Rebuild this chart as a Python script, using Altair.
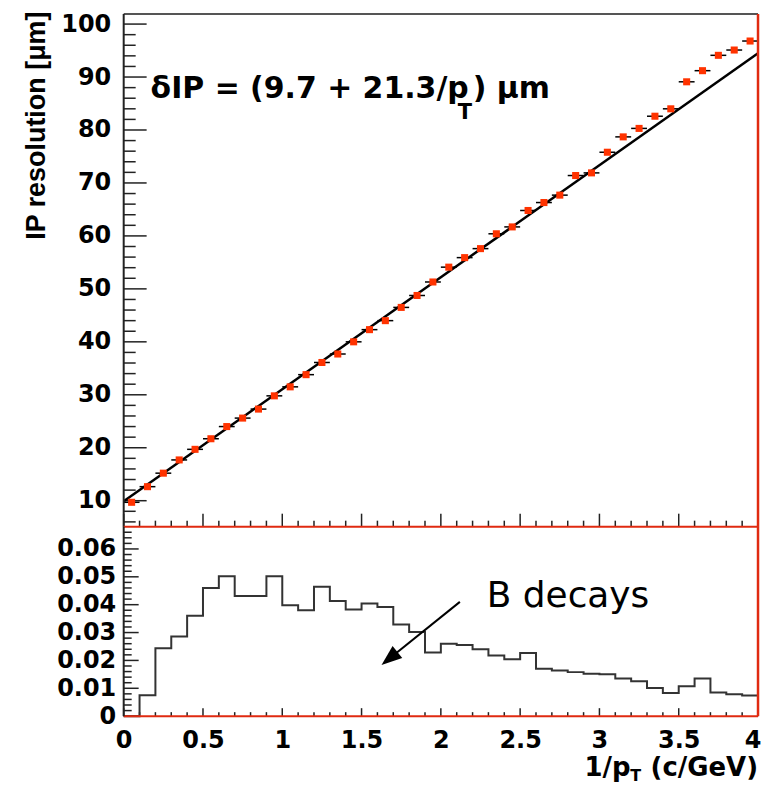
import altair as alt
import pandas as pd

# ---------------- data ----------------
pt_x = [0.05, 0.15, 0.25, 0.35, 0.45, 0.55, 0.65, 0.75, 0.85, 0.95,
        1.05, 1.15, 1.25, 1.35, 1.45, 1.55, 1.65, 1.75, 1.85, 1.95,
        2.05, 2.15, 2.25, 2.35, 2.45, 2.55, 2.65, 2.75, 2.85, 2.95,
        3.05, 3.15, 3.25, 3.35, 3.45, 3.55, 3.65, 3.75, 3.85, 3.95]
pt_y = [9.7, 12.65, 15.2, 17.7, 19.7, 21.7, 24.0, 25.6, 27.3, 29.8,
        31.5, 33.8, 36.1, 37.7, 40.0, 42.3, 44.0, 46.5, 48.75, 51.3,
        54.1, 55.9, 57.6, 60.4, 61.7, 64.8, 66.3, 67.7, 71.4, 71.9,
        75.8, 78.7, 80.3, 82.6, 84.0, 89.1, 91.2, 94.1, 95.1, 96.8]
pt_half_width = 0.05

fit_x = [0.0, 4.0]
fit_y = [9.9, 94.5]

hist_edges = [0.0, 0.1, 0.2, 0.3, 0.4, 0.5, 0.6, 0.7, 0.8, 0.9,
              1.0, 1.1, 1.2, 1.3, 1.4, 1.5, 1.6, 1.7, 1.8, 1.9,
              2.0, 2.1, 2.2, 2.3, 2.4, 2.5, 2.6, 2.7, 2.8, 2.9,
              3.0, 3.1, 3.2, 3.3, 3.4, 3.5, 3.6, 3.7, 3.8, 3.9, 4.0]
hist_vals = [0.0, 0.0075, 0.0244, 0.0286, 0.036, 0.046, 0.0502, 0.0431, 0.0431, 0.0502,
             0.0398, 0.038, 0.0464, 0.0413, 0.0383, 0.0404, 0.0392, 0.0329, 0.0302, 0.0228,
             0.026, 0.0255, 0.024, 0.0218, 0.0204, 0.0227, 0.017, 0.0164, 0.0158, 0.0152,
             0.015, 0.0135, 0.0125, 0.0101, 0.0083, 0.0107, 0.0135, 0.0085, 0.0079, 0.0074]

arrow_x = [2.12, 1.676]
arrow_y = [0.041, 0.0207]

top_y_major = [10, 20, 30, 40, 50, 60, 70, 80, 90, 100]
top_y_minor = [v for v in range(6, 102, 2) if v % 10]
x_major = [0, 0.5, 1, 1.5, 2, 2.5, 3, 3.5, 4]
x_minor = [round(k * 0.1, 1) for k in range(1, 40) if k % 5]
bot_y_major = [0, 0.01, 0.02, 0.03, 0.04, 0.05, 0.06]
bot_y_minor = [round(k * 0.002, 3) for k in range(1, 34) if k % 5]

# ---------------- styling ----------------
W, H1, H2 = 636, 514, 190
RED_PT = "#ff3300"
RED_FR = "#e02a10"
FONT = "DejaVu Sans"

X_SC = alt.Scale(domain=[0, 4], nice=False, zero=False)
Y_TOP = alt.Scale(domain=[5.1, 101.9], nice=False, zero=False)
Y_BOT = alt.Scale(domain=[0, 0.068], nice=False, zero=False)

one = pd.DataFrame({"a": [0]})
df_pts = pd.DataFrame({"x": pt_x, "y": pt_y})
df_pts["xlo"] = df_pts["x"] - pt_half_width
df_pts["xhi"] = df_pts["x"] + pt_half_width
df_fit = pd.DataFrame({"x": fit_x, "y": fit_y})
df_hist = pd.DataFrame({"x": hist_edges, "h": hist_vals + [hist_vals[-1]]})
df_arrow = pd.DataFrame({"x": [arrow_x[0]], "y": [arrow_y[0]],
                         "x2": [arrow_x[1]], "y2": [arrow_y[1]]})
df_head = pd.DataFrame({"x": [arrow_x[1]], "y": [arrow_y[1]]})


def vals(v):
    return pd.DataFrame({"v": v})


Y_AXIS_TOP = alt.Axis(values=top_y_major, ticks=False, tickSize=0, domain=False, grid=False,
                      labelFont=FONT, labelFontWeight="bold", labelFontSize=24,
                      labelColor="black", labelPadding=13,
                      title="IP resolution [μm]", titleFont="Liberation Sans",
                      titleFontWeight="bold", titleFontSize=27, titleColor="black",
                      titleAngle=270, titleAlign="right", titleBaseline="bottom",
                      titleX=-73, titleY=-3)

Y_AXIS_BOT = alt.Axis(values=bot_y_major, ticks=False, tickSize=0, domain=False, grid=False,
                      labelFont=FONT, labelFontWeight="bold", labelFontSize=24,
                      labelColor="black", labelPadding=8, labelExpr="'' + datum.value",
                      title=None)
X_AXIS_BOT = alt.Axis(values=x_major, ticks=False, tickSize=0, domain=False, grid=False,
                      labelFont=FONT, labelFontWeight="bold", labelFontSize=24,
                      labelColor="black", labelPadding=12, labelExpr="'' + datum.value",
                      labelAlign={"condition": {"test": "datum.value == 4", "value": "right"},
                                  "value": "center"},
                      labelOffset={"condition": {"test": "datum.value == 4", "value": 3},
                                   "value": 0},
                      labelFlush=False, labelOverlap=False, title=None)


def panel_axes(top):
    """Same axis object on every layer of a panel so that they merge into one."""
    if top:
        return None, Y_AXIS_TOP, Y_TOP
    return X_AXIS_BOT, Y_AXIS_BOT, Y_BOT


def yticks(values, top, length, width=1.5):
    xa, ya, ys = panel_axes(top)
    return alt.Chart(vals(values)).mark_rule(color="#222", strokeWidth=width).encode(
        y=alt.Y("v:Q", scale=ys, axis=ya), x=alt.value(0), x2=alt.value(length))


def xticks(values, top, h, length, width=1.5):
    xa, ya, ys = panel_axes(top)
    return alt.Chart(vals(values)).mark_rule(color="#222", strokeWidth=width).encode(
        x=alt.X("v:Q", scale=X_SC, axis=xa), y=alt.value(h), y2=alt.value(h - length))


def hline(y, color, w=2):
    return alt.Chart(one).mark_rule(color=color, strokeWidth=w).encode(
        x=alt.value(0), x2=alt.value(W), y=alt.value(y))


def vline(x, h, color, w=2):
    return alt.Chart(one).mark_rule(color=color, strokeWidth=w).encode(
        x=alt.value(x), y=alt.value(0), y2=alt.value(h))


def label(text, x, y, size, weight="bold", align="left", font=FONT):
    return alt.Chart(one).mark_text(text=text, font=font, fontSize=size, fontWeight=weight,
                                    align=align, baseline="alphabetic", color="black").encode(
        x=alt.value(x), y=alt.value(y))


# ---------------- top panel ----------------
xa, ya, ys = panel_axes(True)
fit = alt.Chart(df_fit).mark_line(color="black", strokeWidth=2.5).encode(
    x=alt.X("x:Q", scale=X_SC, axis=xa),
    y=alt.Y("y:Q", scale=ys, axis=ya))
err = alt.Chart(df_pts).mark_rule(color="black", strokeWidth=1.5).encode(
    x=alt.X("xlo:Q", scale=X_SC, axis=xa), x2="xhi:Q",
    y=alt.Y("y:Q", scale=ys, axis=ya))
pts = alt.Chart(df_pts).mark_square(color=RED_PT, size=50, opacity=1).encode(
    x=alt.X("x:Q", scale=X_SC, axis=xa),
    y=alt.Y("y:Q", scale=ys, axis=ya))

top = alt.layer(
    yticks(top_y_major, True, 23), yticks(top_y_minor, True, 12),
    xticks(x_major, True, H1, 13), xticks(x_minor, True, H1, 6),
    fit, err, pts,
    hline(0, "#555"), vline(0, H1, "#222"), vline(W, H1, RED_FR, 2.5),
    label("δIP = (9.7 + 21.3/p", 27, 84.7, 30),
    label("T", 335, 105, 21),
    label(") μm", 350, 84.7, 30),
).properties(width=W, height=H1)

# ---------------- bottom panel ----------------
xa, ya, ys = panel_axes(False)
hist = alt.Chart(df_hist).mark_line(interpolate="step-after", color="#333", strokeWidth=2).encode(
    x=alt.X("x:Q", scale=X_SC, axis=xa),
    y=alt.Y("h:Q", scale=ys, axis=ya))
arrow = alt.Chart(df_arrow).mark_rule(color="black", strokeWidth=2).encode(
    x=alt.X("x:Q", scale=X_SC, axis=xa), x2="x2:Q",
    y=alt.Y("y:Q", scale=ys, axis=ya), y2="y2:Q")
head = alt.Chart(df_head).mark_point(shape="M-0.75,1L0,-1L0.75,1Z", size=420, angle=231,
                                     filled=True, color="black", opacity=1).encode(
    x=alt.X("x:Q", scale=X_SC, axis=xa),
    y=alt.Y("y:Q", scale=ys, axis=ya))

bottom = alt.layer(
    yticks(bot_y_major, False, 15), yticks(bot_y_minor, False, 8),
    xticks(x_major, False, H2, 8), xticks(x_minor, False, H2, 4),
    hist,
    hline(0, RED_FR), hline(H2, RED_FR), vline(0, H2, "#222"), vline(W, H2, RED_FR, 2.5),
    arrow, head,
    label("B decays", 364, 80.7, 36, weight="normal"),
    label("1/p", 462, 250, 26),
    label("T", 508, 255, 16),
    label("(c/GeV)", 636, 250, 26, align="right"),
).properties(width=W, height=H2)

chart = alt.vconcat(top, bottom, spacing=0, bounds="flush").properties(
    padding={"left": 15, "top": 2, "right": 0, "bottom": 0}
).configure_view(stroke=None)

chart.save("out.html", embed_options={"renderer": "svg", "actions": False})
